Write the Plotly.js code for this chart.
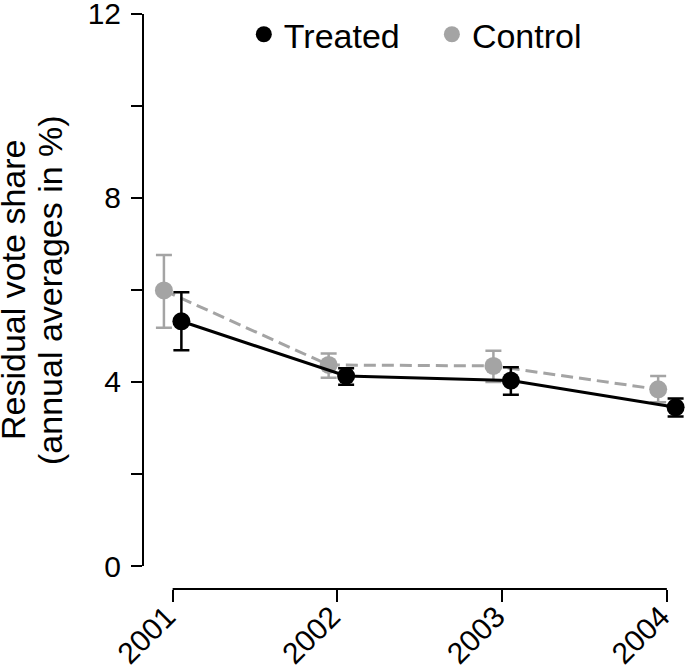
<!DOCTYPE html>
<html>
<head>
<meta charset="utf-8">
<script src="https://cdn.plot.ly/plotly-3.0.1.min.js"></script>
<style>html,body{margin:0;padding:0;background:#fff;}#chart{width:685px;height:670px;}</style>
</head>
<body>
<div id="chart"></div>
<script>
const years = [2001, 2002, 2003, 2004];
const yearLabels = ['2001', '2002', '2003', '2004'];
const treatedMean = [5.32, 4.13, 4.03, 3.45];
const treatedUpper = [5.95, 4.30, 4.32, 3.64];
const treatedLower = [4.69, 3.94, 3.72, 3.25];
const controlMean = [5.99, 4.37, 4.35, 3.84];
const controlUpper = [6.76, 4.62, 4.68, 4.13];
const controlLower = [5.18, 4.09, 4.00, 3.56];
const yTickVals = [0, 4, 8, 12];
const yMinorVals = [2, 6, 10];
const titleLines = ['Residual vote share', '(annual averages in %)'];
const offset = 0.053;

const black = '#000000';
const gray = '#a4a4a4';
const fontFam = 'Liberation Sans, Arial, sans-serif';

function errTrace(xs, mean, up, lo, color, dash) {
  return {
    x: xs, y: mean, type: 'scatter', mode: 'lines+markers', showlegend: false,
    line: {color: color, width: 3, dash: dash},
    marker: {color: color, size: 18},
    error_y: {type: 'data', symmetric: false,
      array: up.map((u, i) => u - mean[i]),
      arrayminus: lo.map((l, i) => mean[i] - l),
      color: color, thickness: 2.5, width: 8},
    hoverinfo: 'skip'
  };
}

const data = [
  errTrace(years.map(y => y - offset), controlMean, controlUpper, controlLower, gray, '12px,6px'),
  errTrace(years.map(y => y + offset), treatedMean, treatedUpper, treatedLower, black, 'solid'),
  {x: [null], y: [null], type: 'scatter', mode: 'markers', name: 'Treated', legend: 'legend', marker: {color: black, size: 18}},
  {x: [null], y: [null], type: 'scatter', mode: 'markers', name: 'Control', legend: 'legend2', marker: {color: gray, size: 18}}
];

const legendBase = {orientation: 'h', y: 1.004, yanchor: 'top', xanchor: 'left',
  font: {size: 34}, itemsizing: 'trace', itemwidth: 30, bgcolor: 'rgba(0,0,0,0)'};

const layout = {
  width: 685, height: 670,
  margin: {l: 143, r: 0, t: 8, b: 81},
  paper_bgcolor: '#fff', plot_bgcolor: '#fff',
  font: {family: fontFam, size: 30, color: '#000'},
  showlegend: true,
  legend: Object.assign({}, legendBase, {x: 0.186}),
  legend2: Object.assign({}, legendBase, {x: 0.533}),
  xaxis: {
    range: [2000.82, 2004.11], showgrid: false, zeroline: false, showline: false,
    tickvals: years, ticktext: yearLabels, ticks: 'outside', ticklen: 12, tickwidth: 2,
    tickcolor: '#000', tickangle: -45, tickfont: {size: 30}, ticklabelstandoff: -15,
    ticklabelshift: -6, ticklabeloverflow: 'allow'
  },
  yaxis: {
    range: [-0.5, 12.13], showgrid: false, zeroline: false, showline: false,
    tickvals: yTickVals, ticks: 'outside', ticklen: 11, tickwidth: 2, tickcolor: '#000',
    tickfont: {size: 30}, ticklabelstandoff: 4, ticklabeloverflow: 'allow',
    minor: {tickvals: yMinorVals, ticks: 'outside', ticklen: 11, tickwidth: 2, tickcolor: '#000', showgrid: false}
  },
  annotations: [
    {text: titleLines[0], xref: 'paper', yref: 'y', x: 0, y: 6, xanchor: 'center', yanchor: 'middle',
     xshift: -130, textangle: -90, showarrow: false, font: {size: 34}},
    {text: titleLines[1], xref: 'paper', yref: 'y', x: 0, y: 6, xanchor: 'center', yanchor: 'middle',
     xshift: -93, textangle: -90, showarrow: false, font: {size: 34}}
  ],
  shapes: [
    {type: 'line', xref: 'x', yref: 'paper', x0: years[0], x1: years[years.length - 1], y0: 0, y1: 0,
     line: {color: '#000', width: 2}},
    {type: 'line', xref: 'paper', yref: 'y', x0: 0, x1: 0, y0: yTickVals[0], y1: yTickVals[yTickVals.length - 1],
     line: {color: '#000', width: 2}}
  ]
};

Plotly.newPlot('chart', data, layout, {displayModeBar: false, staticPlot: true});
</script>
</body>
</html>
